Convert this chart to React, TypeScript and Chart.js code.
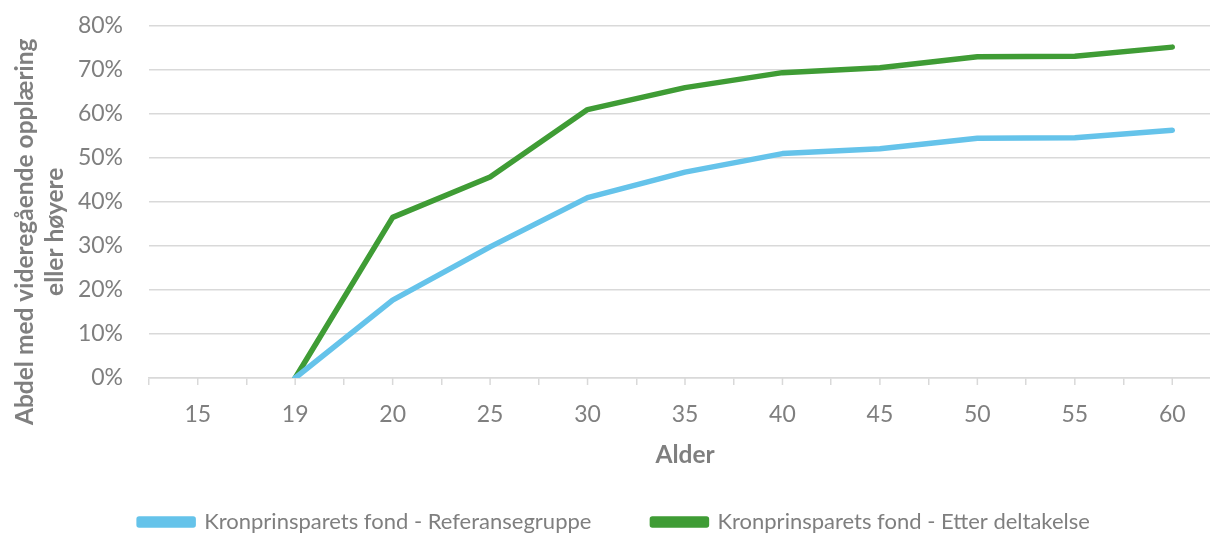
import React, { useEffect, useRef } from "react";
import { Chart, registerables } from "chart.js";

Chart.register(...registerables);

const ageLabels = ["15", "19", "20", "25", "30", "35", "40", "45", "50", "55", "60"];
const referenceGroup = [null, 0, 17.7, 29.8, 41, 46.8, 51, 52.1, 54.5, 54.6, 56.3];
const afterParticipation = [null, 0, 36.5, 45.7, 61, 66, 69.4, 70.5, 73, 73.1, 75.2];
const seriesNames = ["Kronprinsparets fond - Referansegruppe", "Kronprinsparets fond - Etter deltakelse"];
const yTitleLines = ["Abdel med videregående opplæring", "eller høyere"];
const xTitle = "Alder";

const FONT = "Lato, 'Open Sans', sans-serif";
const GRAY = "#7f7f7f";
const GRID = "#d9d9d9";
const BLUE = "#65c3ea";
const GREEN = "#3f9c35";

// trailing padding shifts the centred rotated title slightly downwards, as in the reference
const TITLE_SHIFT = "          ";

const centerTicks = {
  id: "centerTicks",
  afterDraw(chart: any) {
    const x = chart.scales.x;
    const ctx = chart.ctx;
    ctx.save();
    ctx.strokeStyle = GRID;
    ctx.lineWidth = 1.5;
    for (let i = 0; i < ageLabels.length; i++) {
      const px = x.getPixelForValue(i);
      ctx.beginPath();
      ctx.moveTo(px, x.top);
      ctx.lineTo(px, x.top + 7);
      ctx.stroke();
    }
    ctx.restore();
  },
};

export default function App() {
  const ref = useRef<HTMLCanvasElement | null>(null);
  useEffect(() => {
    if (!ref.current) return;
    const chart = new Chart(ref.current, {
      type: "line",
      data: {
        labels: ageLabels,
        datasets: [
          {
            label: seriesNames[0],
            data: referenceGroup,
            borderColor: BLUE,
            backgroundColor: BLUE,
            borderWidth: 5.5,
            pointRadius: 0,
            borderCapStyle: "round",
            borderJoinStyle: "round",
            tension: 0,
          },
          {
            label: seriesNames[1],
            data: afterParticipation,
            borderColor: GREEN,
            backgroundColor: GREEN,
            borderWidth: 5.5,
            pointRadius: 0,
            borderCapStyle: "round",
            borderJoinStyle: "round",
            tension: 0,
          },
        ],
      },
      options: {
        animation: false,
        responsive: true,
        maintainAspectRatio: false,
        layout: { padding: { top: 26, left: 8, right: 4, bottom: 0 } },
        plugins: {
          tooltip: { enabled: false },
          legend: {
            position: "bottom",
            labels: {
              boxWidth: 54,
              boxHeight: 6,
              padding: 61,
              color: GRAY,
              font: { family: FONT, size: 22 },
            },
          },
        },
        scales: {
          x: {
            offset: true,
            grid: { offset: true, drawOnChartArea: false, tickLength: 7, color: GRID, lineWidth: 1.5 },
            border: { color: GRID, width: 1.5 },
            ticks: { color: GRAY, font: { family: FONT, size: 23 }, padding: 16, maxRotation: 0, autoSkip: false },
            title: {
              display: true,
              text: xTitle,
              color: GRAY,
              font: { family: FONT, size: 24.5, weight: "bold" },
              padding: { top: 4, bottom: -20 },
            },
            afterFit: (s: any) => {
              s.height = 72;
            },
          },
          y: {
            min: 0,
            max: 80,
            grid: { color: GRID, lineWidth: 1.5, drawTicks: true, tickLength: 26, tickColor: "rgba(0,0,0,0)" },
            border: { display: false },
            ticks: {
              stepSize: 10,
              color: GRAY,
              font: { family: FONT, size: 23 },
              padding: 0,
              callback: (v: any) => v + "%",
            },
            title: {
              display: true,
              text: yTitleLines.map((t) => t + TITLE_SHIFT),
              color: GRAY,
              font: { family: FONT, size: 24.5, weight: "bold", lineHeight: 1.22 },
              padding: { top: 2, bottom: 8 },
            },
            afterFit: (s: any) => {
              s.width = 141;
            },
          },
        },
      },
      plugins: [centerTicks],
    });
    return () => chart.destroy();
  }, []);
  return (
    <div style={{ position: "fixed", left: 0, top: 0, width: 1225, height: 543, background: "#fff" }}>
      <canvas ref={ref} />
    </div>
  );
}
